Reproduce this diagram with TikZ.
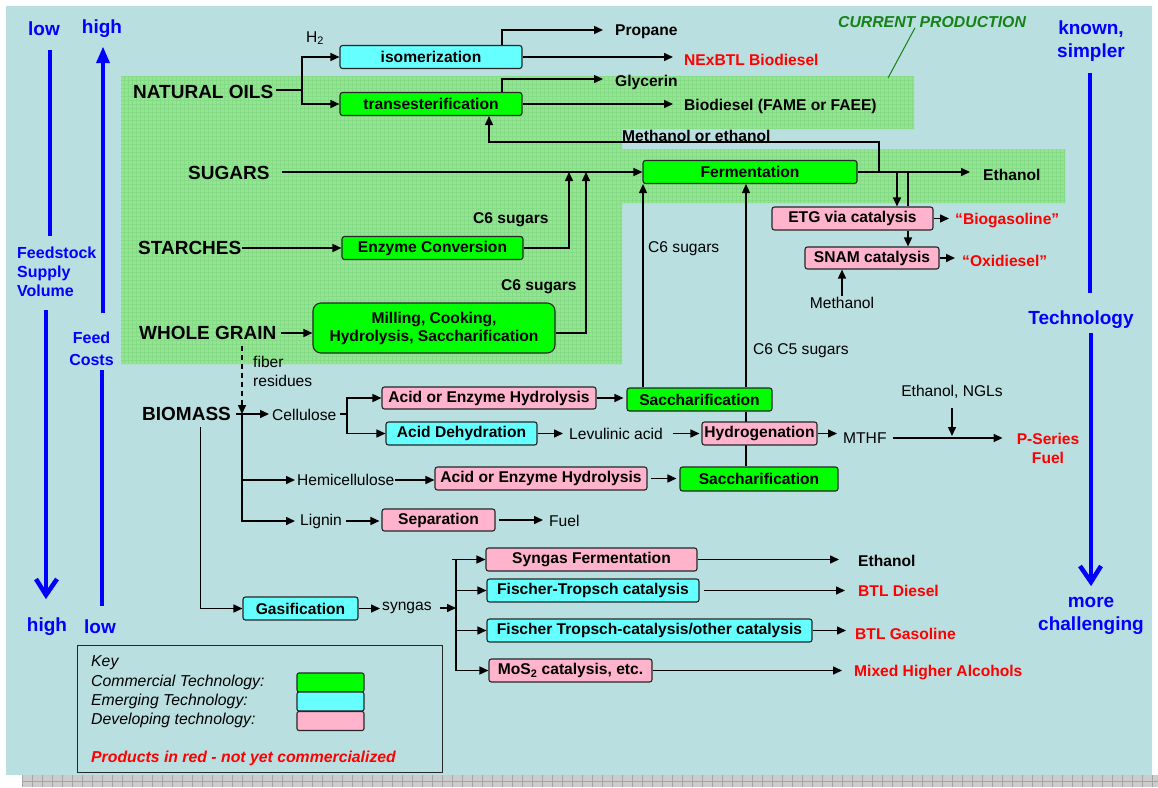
\documentclass[tikz,border=0pt]{standalone}
\usepackage{fontspec}
\setmainfont{Liberation Sans}
\usetikzlibrary{arrows.meta}
\definecolor{bgblue}{RGB}{186,223,224}
\definecolor{greenbg}{RGB}{148,228,148}
\definecolor{greengrid}{RGB}{134,219,134}
\definecolor{boxgreen}{RGB}{0,255,0}
\definecolor{boxcyan}{RGB}{102,255,255}
\definecolor{boxpink}{RGB}{255,179,204}
\definecolor{arrowblue}{RGB}{0,0,255}
\definecolor{prodred}{RGB}{255,0,0}
\definecolor{cpgreen}{RGB}{20,130,20}
\definecolor{stripgray}{RGB}{204,204,204}
\definecolor{stripline}{RGB}{165,165,165}
\newcommand\fnorm{\fontsize{15.6}{19}\selectfont}
\newcommand\fbig{\fontsize{19}{23}\selectfont}
\newcommand\fmid{\fontsize{15.8}{19}\selectfont}
\pgfdeclarelayer{bg}
\pgfdeclarelayer{lines}
\pgfsetlayers{bg,lines,main}
\begin{document}
\begin{tikzpicture}[x=1pt,y=-1pt,
  box/.style={draw=black!85, line width=1.1pt, rounded corners=2.5pt, inner sep=0pt, font=\fnorm\bfseries, align=center, text=black},
  gbox/.style={box, fill=boxgreen},
  cbox/.style={box, fill=boxcyan},
  pbox/.style={box, fill=boxpink},
  txt/.style={inner sep=0pt, font=\fnorm},
  btxt/.style={inner sep=0pt, font=\fnorm\bfseries},
  big/.style={inner sep=0pt, font=\fbig\bfseries},
  rtxt/.style={inner sep=0pt, font=\fnorm\bfseries, text=prodred},
  bluetxt/.style={inner sep=0pt, font=\fbig\bfseries, text=arrowblue, align=center},
  keytxt/.style={inner sep=0pt, font=\fmid\itshape},
  swatch/.style={draw=black!85, line width=1.1pt, rounded corners=2pt, minimum width=67pt, minimum height=19pt, inner sep=0pt},
  conn/.style={line width=1.5pt},
  arr/.style={line width=1.5pt, -{Triangle[length=9pt,width=8pt]}},
  bluearrow/.style={draw=arrowblue, line width=4.5pt}
]
\useasboundingbox (0,0) rectangle (1158,787);

\begin{pgfonlayer}{bg}
\fill[white] (0,0) rectangle (1158,787);
\fill[bgblue] (6,6) rectangle (1152,775);
\fill[stripgray] (22,775) rectangle (1158,787);
\foreach \x in {22,32,...,1158} \draw[stripline, line width=0.6pt] (\x,775) -- (\x,787);
\draw[stripline, line width=0.6pt] (22,781) -- (1158,781);
\begin{scope}
\clip (121,76) rectangle (914,129) (121,76) rectangle (622,364) (622,149) rectangle (1065,203);
\fill[greenbg] (100,60) rectangle (1100,380);
\draw[greengrid, line width=0.3pt, step=4pt] (120,74) grid (1068,366);
\end{scope}
\end{pgfonlayer}

% ---- side scales ----
\node[bluetxt] (lowT) at (44,29) {low};
\node[bluetxt] (highT) at (102,29) {high};
\node[bluetxt, font=\fontsize{16}{19}\selectfont\bfseries, align=left, anchor=west] (fsv) at (17,272) {Feedstock\\Supply\\Volume};
\node[bluetxt, font=\fontsize{16}{22}\selectfont\bfseries] (fc) at (91.5,349) {Feed\\Costs};
\node[bluetxt] (highB) at (47,627) {high};
\node[bluetxt] (lowB) at (100,627) {low};
\node[bluetxt, font=\fontsize{19}{22.5}\selectfont\bfseries] (ks) at (1091,41) {known,\\simpler};
\node[bluetxt] (tech) at (1081,320) {Technology};
\node[bluetxt, font=\fontsize{19}{23}\selectfont\bfseries] (mc) at (1091,616) {more\\challenging};

\draw[bluearrow] (50,50) -- (50,236);
\draw[bluearrow] (46,310) -- (46,595);
\draw[bluearrow, line join=miter] (36,579) -- (46,595) -- (57,579);
\draw[bluearrow] (103,313) -- (103,58);
\fill[arrowblue] (103,47) -- (110,63) -- (96,63) -- cycle;
\draw[bluearrow] (102,370) -- (102,606);
\draw[bluearrow] (1090,73) -- (1090,293);
\draw[bluearrow] (1091,333) -- (1091,582);
\draw[bluearrow, line join=miter] (1080,566) -- (1091,582) -- (1101,566);

% ---- current production ----
\node[inner sep=0pt, font=\fontsize{15.8}{18}\selectfont\bfseries\itshape, text=cpgreen] (cp) at (932,22) {CURRENT PRODUCTION};
\coordinate (cpend) at (888,78);
\draw[cpgreen, line width=1pt] ([xshift=-17pt]cp.south) -- (cpend);

% ---- natural oils ----
\node[big, anchor=west] (nat) at (133,92) {NATURAL OILS};
\node[txt, anchor=west] (h2) at (306,38) {H\textsubscript{2}};
\node[cbox, minimum width=182pt, minimum height=23pt] (iso) at (431,57) {isomerization};
\node[gbox, minimum width=182pt, minimum height=23pt] (trans) at (431,104) {transesterification};
\node[btxt, anchor=west] (propane) at (615,32) {Propane};
\node[rtxt, anchor=west] (nex) at (684,60) {NExBTL Biodiesel};
\node[btxt, anchor=west] (glyc) at (615,82) {Glycerin};
\node[btxt, anchor=west] (biod) at (684,106) {Biodiesel (FAME or FAEE)};
\node[btxt, anchor=west] (meoh) at (622,136) {Methanol or ethanol};

% ---- sugars / starches / grain ----
\node[big, anchor=west] (sugars) at (188,173) {SUGARS};
\node[gbox, minimum width=214pt, minimum height=23pt] (ferm) at (750,172) {Fermentation};
\node[btxt, anchor=west] (eth1) at (983,175) {Ethanol};
\node[big, anchor=west] (starch) at (138,248) {STARCHES};
\node[gbox, minimum width=181pt, minimum height=23pt] (enz) at (432.5,248) {Enzyme Conversion};
\node[btxt, anchor=west] (c6a) at (473,220) {C6 sugars};
\node[big, anchor=west] (wg) at (139,333) {WHOLE GRAIN};
\node[gbox, rounded corners=8pt, minimum width=242pt, minimum height=50pt, font=\fontsize{15.6}{18}\selectfont\bfseries] (mill) at (434,328) {Milling, Cooking,\\Hydrolysis, Saccharification};
\node[btxt, anchor=west] (c6b) at (501,287) {C6 sugars};

\node[pbox, minimum width=161pt, minimum height=23pt] (etg) at (852.5,218.5) {ETG via catalysis};
\node[rtxt, anchor=west] (biog) at (955,220) {“Biogasoline”};
\node[pbox, minimum width=134pt, minimum height=22pt] (snam) at (872,258) {SNAM catalysis};
\node[rtxt, anchor=west] (oxid) at (962,261) {“Oxidiesel”};
\node[txt] (meth) at (842,303) {Methanol};
\node[txt, anchor=west] (c6c) at (648,249) {C6 sugars};
\node[txt, anchor=west] (c6c5) at (753,351) {C6 C5 sugars};

% ---- biomass ----
\node[txt, anchor=west, align=left] (fiber) at (253,371.5) {fiber\\residues};
\node[big, anchor=west] (biomass) at (142,414) {BIOMASS};
\node[txt, anchor=west] (cell) at (272,415) {Cellulose};
\node[pbox, minimum width=214pt, minimum height=22pt] (aeh1) at (489,398) {Acid or Enzyme Hydrolysis};
\node[cbox, minimum width=151pt, minimum height=23pt] (adh) at (461.5,433.5) {Acid Dehydration};
\node[gbox, minimum width=145pt, minimum height=23pt] (sac1) at (699.5,399.5) {Saccharification};
\node[txt, anchor=west] (levu) at (569,434) {Levulinic acid};
\node[pbox, minimum width=115pt, minimum height=23pt] (hydro) at (759.5,433.5) {Hydrogenation};
\node[txt, anchor=west] (mthf) at (843,438) {MTHF};
\node[txt] (engl) at (952,392) {Ethanol, NGLs};
\node[rtxt, align=center] (pser) at (1048,448) {P-Series\\Fuel};
\node[txt, anchor=west] (hemi) at (297,480) {Hemicellulose};
\node[pbox, minimum width=212pt, minimum height=23pt] (aeh2) at (541,478.5) {Acid or Enzyme Hydrolysis};
\node[gbox, minimum width=158pt, minimum height=24pt] (sac2) at (759,479) {Saccharification};
\node[txt, anchor=west] (lignin) at (300,521) {Lignin};
\node[pbox, minimum width=113pt, minimum height=22pt] (sep) at (438.5,520) {Separation};
\node[txt, anchor=west] (fuel) at (549,521) {Fuel};

% ---- gasification ----
\node[cbox, minimum width=115pt, minimum height=23pt] (gas) at (300.5,608.5) {Gasification};
\node[txt, anchor=west] (syngas) at (382,608) {syngas};
\node[pbox, minimum width=211pt, minimum height=23pt] (sf) at (591.5,559.5) {Syngas Fermentation};
\node[btxt, anchor=west] (eth2) at (858,561) {Ethanol};
\node[cbox, minimum width=212pt, minimum height=23pt] (ft) at (593,590.5) {Fischer-Tropsch catalysis};
\node[rtxt, anchor=west] (btld) at (858,591) {BTL Diesel};
\node[cbox, minimum width=325pt, minimum height=23pt] (fto) at (649.5,630.5) {Fischer Tropsch-catalysis/other catalysis};
\node[rtxt, anchor=west] (btlg) at (855,634) {BTL Gasoline};
\node[pbox, minimum width=163pt, minimum height=23pt] (mos) at (570.5,670.5) {MoS\textsubscript{2} catalysis, etc.};
\node[rtxt, anchor=west] (mha) at (854,672) {Mixed Higher Alcohols};

% ---- key ----
\node[draw=black!85, line width=1.2pt, anchor=north west, minimum width=365pt, minimum height=127pt, inner sep=0pt] (key) at (77,645) {};
\node[keytxt, anchor=west] (k0) at (91,663) {Key};
\node[keytxt, anchor=west] (k1) at (91,682) {Commercial Technology:};
\node[keytxt, anchor=west] (k2) at (91,701) {Emerging Technology:};
\node[keytxt, anchor=west] (k3) at (91,720) {Developing technology:};
\node[swatch, fill=boxgreen] (sw1) at (330.5,682.5) {};
\node[swatch, fill=boxcyan] (sw2) at (330.5,701.5) {};
\node[swatch, fill=boxpink] (sw3) at (330.5,721) {};
\node[inner sep=0pt, font=\fmid\bfseries\itshape, text=prodred, anchor=west] (kred) at (91,758) {Products in red - not yet commercialized};

% ---- connectors ----
\begin{pgfonlayer}{lines}
\coordinate (nj) at (302,90);
\draw[conn, shorten <=3pt] (nat.east |- nj) -- (nj);
\draw[arr] (nj) |- (iso.west);
\draw[arr] (nj) |- (trans.west);
\coordinate (pj) at (502,30);
\coordinate (gj) at (502,79);
\draw[arr, shorten >=12pt] (iso.north -| pj) |- (propane.west |- pj);
\draw[arr, shorten >=11pt] (iso.east) -- (iso.east -| nex.west);
\draw[arr, shorten >=12pt] (trans.north -| gj) |- (glyc.west |- gj);
\draw[arr, shorten >=11pt] (trans.east) -- (trans.east -| biod.west);
\coordinate (mj) at (879,172);
\draw[arr] (mj) -- ++(0,-30) -| ([xshift=58pt]trans.south);

\draw[arr, shorten <=12pt] (sugars.east |- ferm.west) -- (ferm.west);
\draw[arr, shorten >=13pt] (ferm.east) -- (ferm.east -| eth1.west);
\draw[arr] (starch.east |- enz.west) -- (enz.west);
\coordinate (j1) at (569,172);
\coordinate (j2) at (586,172);
\draw[arr] (enz.east) -| (j1);
\draw[arr] ([yshift=-5pt]mill.east) -| (j2);
\draw[arr, shorten <=4pt] (wg.east) -- (wg.east -| mill.west);

\coordinate (ej) at (897,172);
\coordinate (ek) at (908,172);
\draw[arr] (ej) -- (ej |- etg.north);
\draw[conn] (ek) -- (ek |- etg.north);
\draw[arr] (ek |- etg.south) -- (ek |- snam.north);
\draw[arr, shorten >=6pt] (etg.east) -- (etg.east -| biog.west);
\draw[arr, shorten >=7pt] (snam.east) -- (snam.east -| oxid.west);
\draw[arr, shorten <=1pt] (meth.north) -- (meth.north |- snam.south);

\coordinate (ux) at (643,0);
\coordinate (vx) at (746,0);
\draw[arr] (sac1.north -| ux) -- (ferm.south -| ux);
\draw[arr] (sac1.north -| vx) -- (ferm.south -| vx);
\draw[conn] (sac2.north -| vx) -- (sac1.south -| vx);

\coordinate (bj) at (242,414);
\draw[arr, dashed, dash pattern=on 5pt off 4pt, shorten <=6pt] (wg.south -| bj) -- (bj);
\draw[conn, shorten <=5pt] (biomass.east |- bj) -- (bj);
\draw[arr, shorten >=3pt] (bj) -- (cell.west |- bj);
\coordinate (cj) at (347,414);
\draw[conn, shorten <=3pt] (cell.east |- cj) -- (cj);
\draw[arr] (cj) |- (aeh1.west);
\draw[arr] (cj) |- (adh.west);
\draw[conn] (bj) -- (bj |- lignin.west);
\draw[arr, shorten >=2pt] (bj) |- (hemi.west);
\draw[arr, shorten >=5pt] (bj) |- (lignin.west);
\draw[arr] (hemi.east) -- (hemi.east -| aeh2.west);
\draw[arr, shorten <=3pt, shorten >=3pt] (aeh2.east) -- (aeh2.east -| sac2.west);
\draw[arr, shorten <=4pt, shorten >=2pt] (lignin.east) -- (lignin.east -| sep.west);
\draw[arr, shorten <=3pt, shorten >=6pt] (sep.east) -- (sep.east -| fuel.west);
\draw[arr, shorten >=3pt] (aeh1.east) -- (aeh1.east -| sac1.west);
\draw[arr, shorten >=6pt] (adh.east) -- (adh.east -| levu.west);
\draw[arr, shorten <=10pt, shorten >=2pt] (levu.east |- hydro.west) -- (hydro.west);
\draw[arr, shorten >=6pt] (hydro.east) -- (hydro.east -| mthf.west);
\draw[arr, shorten <=6pt, shorten >=14pt] (mthf.east) -- (mthf.east -| pser.west);
\draw[arr, shorten <=9pt, shorten >=2pt] (engl.south) -- (engl.south |- mthf.east);

\draw[arr, shorten <=6pt] ([xshift=14pt]biomass.south) |- (gas.west);
\draw[arr, shorten >=2pt] (gas.east) -- (gas.east -| syngas.west);
\coordinate (sj) at (456,608);
\draw[arr, shorten <=8pt] (syngas.east |- sj) -- (sj);
\draw[conn] ([xshift=-4pt]sj |- sf.west) -- (sj |- sf.west);
\draw[arr] (sj) |- (sf.west);
\draw[arr] (sj) |- (ft.west);
\draw[arr] (sj) |- (fto.west);
\draw[arr] (sj) |- (mos.west);
\draw[arr, shorten >=19pt] (sf.east) -- (sf.east -| eth2.west);
\draw[arr, shorten <=4pt, shorten >=13pt] (ft.east) -- (ft.east -| btld.west);
\draw[arr, shorten >=9pt] (fto.east) -- (fto.east -| btlg.west);
\draw[arr, shorten >=12pt] (mos.east) -- (mos.east -| mha.west);
\end{pgfonlayer}
\end{tikzpicture}
\end{document}
